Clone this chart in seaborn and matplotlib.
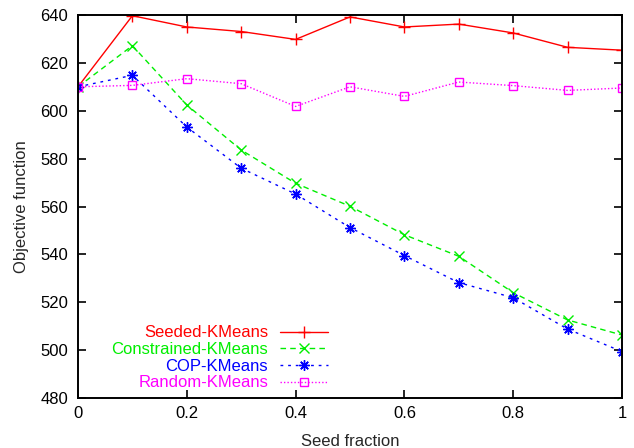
import matplotlib
matplotlib.use("Agg")
import matplotlib.pyplot as plt
import seaborn as sns
import pandas as pd

# Seed fraction on the x axis
seed_fraction = [0.0, 0.1, 0.2, 0.3, 0.4, 0.5, 0.6, 0.7, 0.8, 0.9, 1.0]

# Objective function values for each algorithm
seeded_kmeans = [610.0, 639.7, 635.0, 633.1, 629.8, 639.2, 635.0, 636.2, 632.5, 626.5, 625.3]
constrained_kmeans = [610.0, 627.2, 602.4, 583.6, 569.7, 560.1, 548.2, 539.2, 524.0, 512.6, 506.3]
cop_kmeans = [610.0, 614.8, 593.2, 576.0, 565.2, 551.2, 539.5, 528.2, 521.9, 508.8, 499.4]
random_kmeans = [610.0, 610.6, 613.4, 611.3, 601.8, 610.0, 606.0, 612.0, 610.5, 608.5, 609.5]

series_names = ["Seeded-KMeans", "Constrained-KMeans", "COP-KMeans", "Random-KMeans"]
x_ticks = [0, 0.2, 0.4, 0.6, 0.8, 1]
y_ticks = [480, 500, 520, 540, 560, 580, 600, 620, 640]

sns.set_style("ticks")
plt.rcParams["font.family"] = ["Liberation Sans", "DejaVu Sans"]

FS = 12

styles = {
    "Seeded-KMeans": dict(color="#ff0000", marker="+", markersize=8.5, linestyle="-"),
    "Constrained-KMeans": dict(color="#00ee00", marker="x", markersize=6.5,
                               linestyle=(0, (4, 3))),
    "COP-KMeans": dict(color="#0000ff", marker=(8, 2, 0), markersize=7.5,
                       linestyle=(0, (2, 3.5))),
    "Random-KMeans": dict(color="#ff00ff", marker="s", markersize=6,
                          linestyle=(0, (1, 1.5))),
}

values = [seeded_kmeans, constrained_kmeans, cop_kmeans, random_kmeans]
frames = []
for name, vals in zip(series_names, values):
    frames.append(pd.DataFrame({"fraction": seed_fraction, "objective": vals, "algo": name}))
df = pd.concat(frames, ignore_index=True)

fig = plt.figure(figsize=(6.34, 4.48), dpi=100)
ax = fig.add_axes([78 / 634, 50 / 448, 544 / 634, 383 / 448])

for name in series_names:
    st = styles[name]
    sub = df[df["algo"] == name]
    sns.lineplot(data=sub, x="fraction", y="objective", ax=ax, label=name,
                 linewidth=1.0, markeredgewidth=1.0, markeredgecolor=st["color"],
                 markerfacecolor="none", **st)

ax.set_xlim(0, 1)
ax.set_ylim(480, 640)
ax.set_xticks(x_ticks)
ax.set_xticklabels([f"{t:g}" for t in x_ticks])
ax.set_yticks(y_ticks)
ax.tick_params(direction="in", length=6, width=1.2, top=True, right=True,
               labelsize=FS, colors="black")
ax.tick_params(axis="y", pad=7)
ax.tick_params(axis="x", pad=6)
for sp in ax.spines.values():
    sp.set_visible(True)
    sp.set_linewidth(1.4)
    sp.set_color("black")

ax.set_xlabel("Seed fraction", fontsize=FS, labelpad=9)
ax.set_ylabel("Objective function", fontsize=FS, labelpad=8)

leg = ax.legend(loc="lower right", bbox_to_anchor=(0.46, 0.02), bbox_transform=ax.transAxes,
                frameon=False, markerfirst=False, labelcolor="linecolor",
                handlelength=2.9, handletextpad=0.7, fontsize=FS,
                labelspacing=0.1, borderpad=0, borderaxespad=0)

fig.savefig("out.png", dpi=100)
